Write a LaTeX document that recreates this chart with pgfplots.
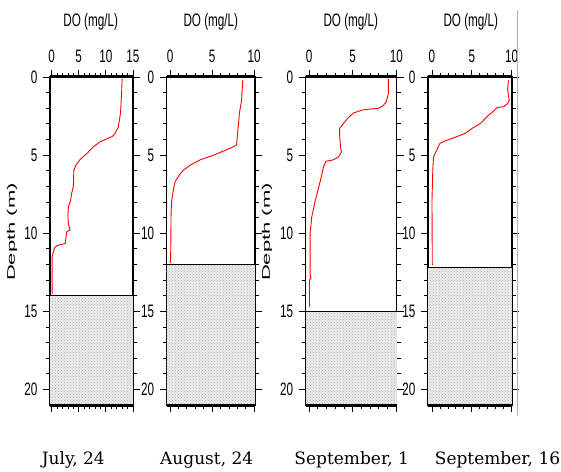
\documentclass[border=0pt]{standalone}
\usepackage{pgfplots}
\pgfplotsset{compat=1.18}
\usetikzlibrary{patterns}
\usepackage{fontspec}
\newfontfamily\nsf[FakeStretch=0.65]{Liberation Sans}
\newfontfamily\lsans{Liberation Sans}
\newfontfamily\dserif{DejaVu Serif}

\pgfplotsset{
  dopanel/.style={
    scale only axis, height=328pt, anchor=north west,
    y dir=reverse, ymin=0, ymax=21,
    ytick={0,5,10,15,20}, minor y tick num=4,
    minor x tick num=4,
    xticklabel pos=top, yticklabel pos=left,
    tick align=outside, major tick length=7pt, minor tick length=4pt,
    axis line style={black, line width=1.1pt},
    tick style={black, line width=0.8pt},
    tick label style={font=\nsf\fontsize{18}{18}\selectfont},
    xticklabel style={anchor=base, yshift=7.5pt},
    yticklabel shift=2pt,
    /pgf/number format/assume math mode=true,
    clip=false,
  },
  sediment/.style={draw=none, fill=gray!16, postaction={pattern=crosshatch dots, pattern color=gray!60}},
  profile/.style={red, line width=0.9pt},
}

\begin{document}
\begin{tikzpicture}[x=1pt,y=1pt]
\useasboundingbox (0,0) rectangle (561,471);

% July 24
\begin{axis}[dopanel, at={(50pt,394pt)}, width=83pt, xmin=-0.3, xmax=15, xtick={0,5,10,15}]
\addplot[sediment] coordinates {(-0.3,14) (15,14) (15,21) (-0.3,21)} -- cycle;
\addplot[black, line width=0.7pt] coordinates {(-0.3,14) (15,14)};
\addplot[profile] coordinates {(13.0,0.1) (12.9,1.0) (12.7,2.3) (12.3,3.2) (11.7,3.6) (11.2,3.8) (8.9,4.15) (7.7,4.47) (6.5,4.9) (5.2,5.3) (4.5,5.64) (4.1,5.96) (4.0,7.0) (3.7,7.45) (3.5,7.9) (3.1,8.3) (3.0,8.9) (3.1,9.4) (3.4,9.8) (2.8,9.9) (2.6,10.4) (2.5,10.66) (1.2,10.77) (0.6,10.9) (0.3,11.2) (0.1,11.5) (0.1,13.9)};
\draw[line width=3pt] (rel axis cs:0,0) -- (rel axis cs:1,0);
\draw[line width=3pt] (rel axis cs:0,1) -- (rel axis cs:1,1);
\end{axis}

% August 24
\begin{axis}[dopanel, at={(166.7pt,394pt)}, width=88.3pt, xmin=-0.4, xmax=10.1, xtick={0,5,10}]
\addplot[sediment] coordinates {(-0.4,12) (10.1,12) (10.1,21) (-0.4,21)} -- cycle;
\addplot[black, line width=0.7pt] coordinates {(-0.4,12) (10.1,12)};
\addplot[profile] coordinates {(8.65,0.2) (8.5,1.5) (8.25,2.3) (8.1,3.2) (7.9,4.36) (7.1,4.57) (5.2,5.0) (3.6,5.3) (2.4,5.64) (1.6,5.96) (1.2,6.2) (0.6,6.7) (0.4,7.2) (0.2,7.9) (0.12,8.7) (0.08,11.1) (0.04,11.9)};
\draw[line width=3pt] (rel axis cs:0,0) -- (rel axis cs:1,0);
\draw[line width=3pt] (rel axis cs:0,1) -- (rel axis cs:1,1);
\end{axis}

% September 1
\begin{axis}[dopanel, at={(305.7pt,394pt)}, width=91pt, xmin=-0.4, xmax=10.05, xtick={0,5,10}]
\addplot[sediment] coordinates {(-0.4,15) (10.05,15) (10.05,21) (-0.4,21)} -- cycle;
\addplot[black, line width=0.7pt] coordinates {(-0.4,15) (10.05,15)};
\addplot[profile] coordinates {(9.1,0.1) (9.1,1.05) (8.85,1.6) (8.45,1.86) (7.95,2.0) (6.2,2.1) (5.1,2.3) (4.4,2.65) (3.8,3.08) (3.5,3.3) (3.5,3.8) (3.6,4.47) (3.7,4.8) (3.4,5.1) (2.8,5.3) (1.9,5.4) (1.65,5.75) (1.3,6.6) (0.8,7.7) (0.7,7.9) (0.3,8.95) (0.1,10.0) (0.1,12.6) (0.2,12.9) (0.03,13.0) (0.03,14.7)};
\draw[line width=3pt] (rel axis cs:0,0) -- (rel axis cs:1,0);
\draw[line width=3pt] (rel axis cs:0,1) -- (rel axis cs:1,1);
\end{axis}

% September 16
\begin{axis}[dopanel, at={(428pt,394pt)}, width=84pt, xmin=-0.5, xmax=10.05, xtick={0,5,10}]
\addplot[sediment] coordinates {(-0.5,12.2) (10.05,12.2) (10.05,21) (-0.5,21)} -- cycle;
\addplot[black, line width=0.7pt] coordinates {(-0.5,12.2) (10.05,12.2)};
\addplot[profile] coordinates {(9.6,0.2) (9.5,0.8) (9.7,1.5) (9.5,1.7) (9.0,1.9) (8.2,1.95) (7.7,2.2) (7.1,2.45) (6.1,2.97) (5.0,3.3) (4.2,3.6) (2.7,3.9) (1.7,4.08) (1.0,4.25) (0.6,4.68) (0.2,5.1) (0.1,5.96) (0.0,7.9) (0.04,12.05)};
\draw[line width=3pt] (rel axis cs:0,0) -- (rel axis cs:1,0);
\draw[line width=3pt] (rel axis cs:0,1) -- (rel axis cs:1,1);
\end{axis}

% titles and labels
\foreach \cx in {90.7,210.8,350.8,470.8}
  \node[font=\nsf\fontsize{18}{18}\selectfont] at (\cx,449) {DO (mg/L)};
\foreach \cx in {12,267}
  \node[rotate=90] at (\cx,239) {\scalebox{1}[0.5]{\lsans\fontsize{22}{22}\selectfont Depth (m)}};
\node[font=\dserif\fontsize{17}{17}\selectfont] at (73.3,11) {July, 24};
\node[font=\dserif\fontsize{17}{17}\selectfont] at (206.7,11) {August, 24};
\node[font=\dserif\fontsize{17}{17}\selectfont] at (351.7,11) {September, 1};
\node[font=\dserif\fontsize{17}{17}\selectfont] at (497.5,11) {September, 16};
\draw[gray!60, line width=0.6pt] (517.3,461) -- (517.3,56);
\end{tikzpicture}
\end{document}
